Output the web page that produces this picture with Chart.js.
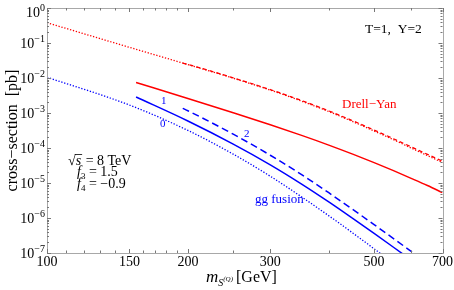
<!DOCTYPE html>
<html>
<head>
<meta charset="utf-8">
<script src="https://cdn.jsdelivr.net/npm/chart.js@4.4.0/dist/chart.umd.min.js"></script>
<style>
  html, body { margin: 0; padding: 0; background: #fff; }
  #wrap { width: 454px; height: 290px; }
</style>
</head>
<body>
<div id="wrap"><canvas id="c" width="454" height="290"></canvas></div>
<script>
// masses in GeV, cross-sections in pb
const dyMass0 = [100, 150, 200, 250, 300, 350, 400, 450, 500, 550, 600, 650, 700];
const dy0 = [0.380, 0.0752, 0.0242, 9.89e-3, 4.51e-3, 2.18e-3, 1.10e-3, 5.70e-4, 3.06e-4, 1.72e-4, 1.0e-4, 6.07e-5, 3.83e-5];

const dyMass1 = [155, 200, 250, 300, 350, 400, 450, 500, 550, 600, 650, 700];
const dy1 = [7.41e-3, 2.61e-3, 1.02e-3, 4.62e-4, 2.29e-4, 1.21e-4, 6.67e-5, 3.82e-5, 2.25e-5, 1.36e-5, 8.47e-6, 5.3e-6];

const dyMass2 = [195, 200, 250, 300, 350, 400, 450, 500, 550, 600, 650, 700];
const dy2 = [0.0267, 0.0244, 0.0101, 4.65e-3, 2.27e-3, 1.15e-3, 6.0e-4, 3.25e-4, 1.84e-4, 1.08e-4, 6.6e-5, 4.2e-5];

const ggMass0 = [100, 150, 200, 250, 300, 350, 400, 450, 500, 550];
const gg0 = [0.0105, 1.69e-3, 3.18e-4, 6.67e-5, 1.56e-5, 4.0e-6, 1.16e-6, 3.74e-7, 1.32e-7, 5.15e-8];

const ggMass1 = [155, 200, 250, 300, 350, 400, 450, 500, 550, 600];
const gg1 = [2.86e-3, 5.90e-4, 1.29e-4, 3.30e-5, 9.31e-6, 2.88e-6, 9.73e-7, 3.61e-7, 1.46e-7, 6.32e-8];

const ggMass2 = [195, 200, 250, 300, 350, 400, 450, 500, 550, 600, 650];
const gg2 = [1.36e-3, 1.16e-3, 2.48e-4, 6.21e-5, 1.73e-5, 5.27e-6, 1.76e-6, 6.47e-7, 2.59e-7, 1.11e-7, 5.08e-8];

// axis ticks
const xTickLabels = [100, 150, 200, 300, 500, 700];
const xTickMinor = [110, 120, 130, 140, 160, 170, 180, 190, 250, 400, 600];
const yExponents = [-7, -6, -5, -4, -3, -2, -1, 0];

const SERIF = "'Liberation Serif', 'DejaVu Serif', serif";
const RED = '#ff0000';
const BLUE = '#0000ff';

function pts(xs, ys) {
  return xs.map((x, i) => ({ x: x, y: ys[i] }));
}

function line(label, xs, ys, color, dash, width) {
  return {
    label: label,
    data: pts(xs, ys),
    borderColor: color,
    borderWidth: width,
    borderDash: dash,
    pointRadius: 0,
    fill: false,
    cubicInterpolationMode: 'monotone'
  };
}

// frame, inward ticks, labels and annotations
const decorPlugin = {
  id: 'decor',
  afterDraw(chart) {
    const ctx = chart.ctx;
    const a = chart.chartArea;
    const xs = chart.scales.x;
    const ys = chart.scales.y;
    ctx.save();

    // frame
    ctx.strokeStyle = '#a8a8a8';
    ctx.lineWidth = 1;
    ctx.strokeRect(Math.round(a.left) + 0.5, Math.round(a.top) + 0.5,
      Math.round(a.right - a.left), Math.round(a.bottom - a.top));

    // x ticks (bottom & top)
    ctx.strokeStyle = '#777';
    const xTick = (v, len) => {
      const px = Math.round(xs.getPixelForValue(v)) + 0.5;
      ctx.beginPath();
      ctx.moveTo(px, a.bottom); ctx.lineTo(px, a.bottom - len);
      ctx.moveTo(px, a.top); ctx.lineTo(px, a.top + len);
      ctx.stroke();
    };
    xTickLabels.forEach(v => xTick(v, 4));
    xTickMinor.forEach(v => xTick(v, 2.5));

    // y ticks (left & right)
    const yTick = (v, len) => {
      const py = Math.round(ys.getPixelForValue(v)) + 0.5;
      ctx.beginPath();
      ctx.moveTo(a.left, py); ctx.lineTo(a.left + len, py);
      ctx.moveTo(a.right, py); ctx.lineTo(a.right - len, py);
      ctx.stroke();
    };
    yExponents.forEach(e => {
      yTick(Math.pow(10, e), 4);
      if (e < 0) {
        for (let k = 2; k <= 9; k++) yTick(k * Math.pow(10, e), 2);
      }
    });

    // y tick labels 10^n
    ctx.fillStyle = '#000';
    yExponents.forEach(e => {
      const py = ys.getPixelForValue(Math.pow(10, e));
      const base = Math.max(py + 4.5, 17);
      const expTxt = String(e).replace('-', '\u2212');
      ctx.font = '10px ' + SERIF;
      const ew = ctx.measureText(expTxt).width;
      ctx.textAlign = 'left';
      ctx.textBaseline = 'alphabetic';
      const right = 45;
      ctx.fillText(expTxt, right - ew, base - 6);
      ctx.font = '14px ' + SERIF;
      ctx.textAlign = 'right';
      ctx.fillText('10', right - ew, base);
    });

    // y axis title
    ctx.save();
    ctx.translate(13, (a.top + a.bottom) / 2);
    ctx.rotate(-Math.PI / 2);
    ctx.font = '16px ' + SERIF;
    ctx.textAlign = 'center';
    ctx.textBaseline = 'middle';
    ctx.fillText('cross\u2212section  [pb]', 0, 0);
    ctx.restore();

    // x axis title: m_{S^(Q)} [GeV]
    ctx.textAlign = 'left';
    ctx.textBaseline = 'alphabetic';
    let x = 206;
    ctx.font = 'italic 17px ' + SERIF;
    ctx.fillText('m', x, 282);
    x += ctx.measureText('m').width;
    ctx.font = 'italic 10px ' + SERIF;
    ctx.fillText('S', x, 286);
    x += ctx.measureText('S').width;
    ctx.font = 'italic 7px ' + SERIF;
    ctx.fillText('(Q)', x, 281);
    x += ctx.measureText('(Q)').width + 3;
    ctx.font = '16px ' + SERIF;
    ctx.fillText('[GeV]', x, 282);

    // annotations
    ctx.font = '13.5px ' + SERIF;
    ctx.fillStyle = '#000';
    ctx.fillText('T=1,  Y=2', 365, 33);

    ctx.font = '13px ' + SERIF;
    ctx.fillStyle = RED;
    ctx.fillText('Drell\u2212Yan', 342, 108);

    ctx.fillStyle = BLUE;
    ctx.fillText('gg fusion', 255, 203);

    ctx.font = '11px ' + SERIF;
    ctx.fillText('1', 161, 104);
    ctx.fillText('0', 160, 127);
    ctx.fillText('2', 244, 137);

    // sqrt(s) = 8 TeV, f3, f4
    ctx.fillStyle = '#000';
    ctx.font = '14px ' + SERIF;
    ctx.fillText('\u221A', 68, 165);
    let sx = 68 + ctx.measureText('\u221A').width;
    ctx.font = 'italic 14px ' + SERIF;
    ctx.fillText('s', sx, 165);
    const sw = ctx.measureText('s').width;
    ctx.strokeStyle = '#000';
    ctx.lineWidth = 0.8;
    ctx.beginPath();
    ctx.moveTo(sx - 1, 154.5); ctx.lineTo(sx + sw + 1, 154.5);
    ctx.stroke();
    ctx.font = '14px ' + SERIF;
    ctx.fillText(' = 8 TeV', sx + sw + 1, 165);

    const fLine = (idx, val, y) => {
      let fx = 77;
      ctx.font = 'italic 14px ' + SERIF;
      ctx.fillText('f', fx, y);
      fx += ctx.measureText('f').width;
      ctx.font = '9px ' + SERIF;
      ctx.fillText(idx, fx, y + 3);
      fx += ctx.measureText(idx).width;
      ctx.font = '14px ' + SERIF;
      ctx.fillText(' = ' + val, fx, y);
    };
    fLine('3', '1.5', 176);
    fLine('4', '\u22120.9', 188);

    ctx.restore();
  }
};

const ctx = document.getElementById('c').getContext('2d');
const chart = new Chart(ctx, {
  type: 'line',
  data: {
    datasets: [
      line('DY 0', dyMass0, dy0, RED, [1.3, 1.7], 1.3),
      line('DY 2', dyMass2, dy2, RED, [4, 3], 1.3),
      line('DY 1', dyMass1, dy1, RED, [], 1.5),
      line('gg 0', ggMass0, gg0, BLUE, [1.3, 1.7], 1.3),
      line('gg 1', ggMass1, gg1, BLUE, [], 1.5),
      line('gg 2', ggMass2, gg2, BLUE, [7, 4], 1.5)
    ]
  },
  options: {
    responsive: false,
    animation: false,
    layout: { padding: { top: 8, right: 11, left: 0, bottom: 0 } },
    plugins: {
      legend: { display: false },
      tooltip: { enabled: false }
    },
    scales: {
      x: {
        type: 'logarithmic',
        min: 100,
        max: 700,
        afterBuildTicks: s => {
          s.ticks = xTickLabels.map(v => ({ value: v }));
        },
        afterFit: s => { s.height = 37; },
        grid: { display: false, drawTicks: false },
        border: { display: false },
        ticks: {
          autoSkip: false,
          maxRotation: 0,
          padding: 1,
          color: '#000',
          font: { family: SERIF, size: 14 },
          callback: v => String(v)
        }
      },
      y: {
        type: 'logarithmic',
        min: 1e-7,
        max: 1,
        afterFit: s => { s.width = 47; },
        grid: { display: false, drawTicks: false },
        border: { display: false },
        ticks: { display: false }
      }
    }
  },
  plugins: [decorPlugin]
});
</script>
</body>
</html>
